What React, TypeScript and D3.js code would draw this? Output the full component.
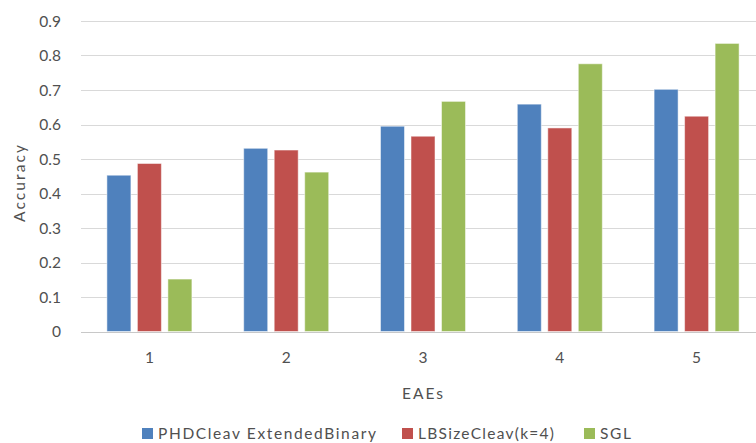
import React from "react";
import * as d3 from "d3";

const categories = ["1", "2", "3", "4", "5"];
const seriesNames = ["PHDCleav ExtendedBinary", "LBSizeCleav(k=4)", "SGL"];
const phdValues = [0.453, 0.531, 0.595, 0.659, 0.702];
const lbValues = [0.487, 0.526, 0.566, 0.59, 0.624];
const sglValues = [0.152, 0.462, 0.667, 0.776, 0.835];
const yTicks = [0, 0.1, 0.2, 0.3, 0.4, 0.5, 0.6, 0.7, 0.8, 0.9];
const colors = ["#4F81BD", "#C0504D", "#9BBB59"];

const W = 756;
const H = 443;
const FONT = "Lato, 'Open Sans', sans-serif";
const TEXT = "#505050";

export default function App() {
  const seriesValues = [phdValues, lbValues, sglValues];
  const x0 = d3.scaleBand<string>().domain(categories).range([81, 765]).padding(0);
  const x1 = d3
    .scaleBand<string>()
    .domain(seriesNames)
    .range([0, x0.bandwidth()])
    .paddingInner(0.213)
    .paddingOuter(0.849);
  const y = d3.scaleLinear().domain([0, 0.9]).range([331.5, 21]);

  const legendItems = [
    { x: 142, w: 218 },
    { x: 402, w: 136 },
    { x: 584, w: 31 },
  ];

  return (
    <svg
      width={W}
      height={H}
      style={{ position: "absolute", left: 0, top: 0, display: "block", background: "#fff" }}
      fontFamily={FONT}
    >
      {yTicks.map((t) => (
        <g key={t}>
          <line
            x1={81}
            x2={W}
            y1={Math.round(y(t)) + 0.5}
            y2={Math.round(y(t)) + 0.5}
            stroke={t === 0 ? "#c8c8c8" : "#d9d9d9"}
            strokeWidth={1}
          />
          <text x={61} y={y(t)} dy="0.36em" textAnchor="end" fontSize={15.5} fill={TEXT}>
            {d3.format("")(+t.toFixed(1))}
          </text>
        </g>
      ))}
      {categories.map((c, i) => (
        <g key={c} transform={`translate(${x0(c)},0)`}>
          {seriesNames.map((s, j) => (
            <rect
              key={s}
              x={x1(s)}
              y={y(seriesValues[j][i])}
              width={x1.bandwidth()}
              height={y(0) - y(seriesValues[j][i])}
              fill={colors[j]}
              stroke="#ffffff"
              strokeOpacity={0.5}
              strokeWidth={1}
            />
          ))}
          <text
            x={x0.bandwidth() / 2}
            y={363}
            textAnchor="middle"
            fontSize={15.5}
            fill={TEXT}
          >
            {c}
          </text>
        </g>
      ))}
      <text
        x={402}
        y={399}
        fontSize={15.5}
        fill={TEXT}
        textLength={41}
        lengthAdjust="spacing"
      >
        EAEs
      </text>
      <text
        transform={`translate(25,222) rotate(-90)`}
        fontSize={15.5}
        fill={TEXT}
        textLength={77}
        lengthAdjust="spacing"
      >
        Accuracy
      </text>
      {seriesNames.map((s, j) => (
        <g key={s}>
          <rect x={legendItems[j].x} y={428} width={11} height={11} fill={colors[j]} />
          <text
            x={legendItems[j].x + 16}
            y={438.5}
            fontSize={15.5}
            fill={TEXT}
            textLength={legendItems[j].w}
            lengthAdjust="spacing"
          >
            {s}
          </text>
        </g>
      ))}
    </svg>
  );
}
